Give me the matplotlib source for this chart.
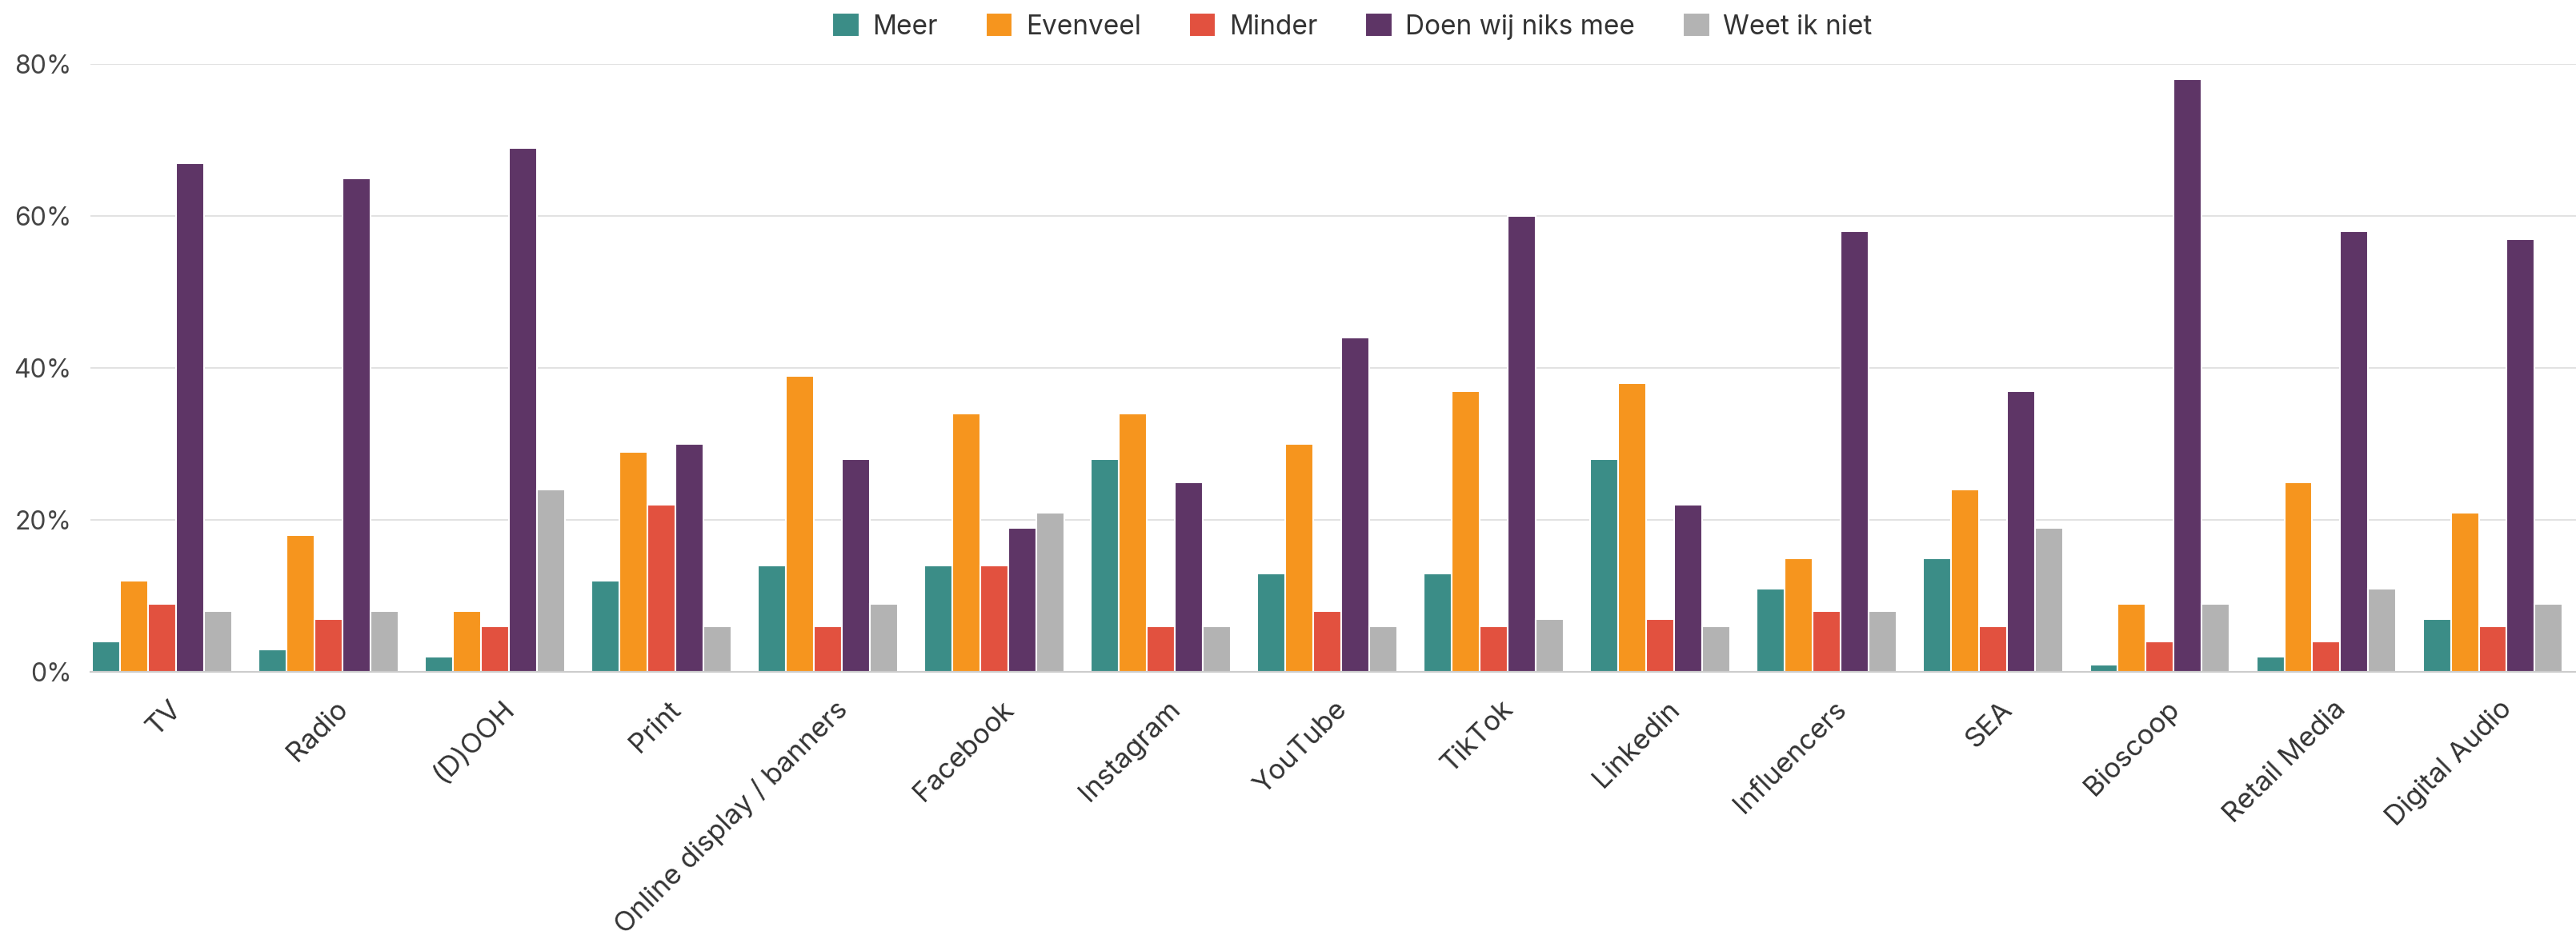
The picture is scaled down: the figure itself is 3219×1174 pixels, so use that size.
import numpy as np
import matplotlib
matplotlib.use("Agg")
import matplotlib.pyplot as plt
import matplotlib.transforms as mtransforms
from matplotlib.ticker import PercentFormatter

plt.rcParams['font.family'] = ['Inter', 'DejaVu Sans']

categories = ['TV', 'Radio', '(D)OOH', 'Print', 'Online display / banners', 'Facebook',
              'Instagram', 'YouTube', 'TikTok', 'Linkedin', 'Influencers', 'SEA',
              'Bioscoop', 'Retail Media', 'Digital Audio']

meer = [4, 3, 2, 12, 14, 14, 28, 13, 13, 28, 11, 15, 1, 2, 7]
evenveel = [12, 18, 8, 29, 39, 34, 34, 30, 37, 38, 15, 24, 9, 25, 21]
minder = [9, 7, 6, 22, 6, 14, 6, 8, 6, 7, 8, 6, 4, 4, 6]
doen_niks = [67, 65, 69, 30, 28, 19, 25, 44, 60, 22, 58, 37, 78, 58, 57]
weet_niet = [8, 8, 24, 6, 9, 21, 6, 6, 7, 6, 8, 19, 9, 11, 9]

series = [meer, evenveel, minder, doen_niks, weet_niet]
labels = ['Meer', 'Evenveel', 'Minder', 'Doen wij niks mee', 'Weet ik niet']
colors = ['#3b8d87', '#f6951e', '#e2513f', '#5e3566', '#b3b3b3']

fig = plt.figure(figsize=(32.19, 11.74), dpi=100)
ax = fig.add_axes([113 / 3219, 1 - 840 / 1174, 1 - 113 / 3219, 760 / 1174])

x = np.arange(len(categories))
width = 0.168
for i, (vals, lab, col) in enumerate(zip(series, labels, colors)):
    ax.bar(x + (i - 2) * width, vals, width, color=col, label=lab,
           edgecolor='white', linewidth=1.5, zorder=3)

ax.set_xlim(-0.43, len(categories) - 0.5)
ax.set_ylim(0, 80)
ax.set_yticks([0, 20, 40, 60, 80])
ax.yaxis.set_major_formatter(PercentFormatter(decimals=0))
ax.grid(axis='y', color='#e2e2e2', linewidth=1.5, zorder=0)
ax.set_axisbelow(True)

for side in ['top', 'right', 'left']:
    ax.spines[side].set_visible(False)
ax.spines['bottom'].set_color('#cccccc')
ax.spines['bottom'].set_linewidth(1.5)
ax.spines['bottom'].set_zorder(4)

ax.set_xticks(x)
ax.set_xticklabels(categories, rotation=45, ha='right', rotation_mode='anchor')
ax.tick_params(axis='x', length=0, pad=22, labelsize=25, labelcolor='#333333')
ax.tick_params(axis='y', length=0, pad=17, labelsize=23, labelcolor='#444444')

# nudge the rotated labels to the right, like the original
shift = mtransforms.ScaledTranslation(0.08, 0, fig.dpi_scale_trans)
for t in ax.get_xticklabels():
    t.set_transform(t.get_transform() + shift)

fig.legend(loc='center', bbox_to_anchor=(1690 / 3219, 1 - 33 / 1174), ncol=5,
           frameon=False, fontsize=24, handlelength=1.0, handleheight=1.0,
           columnspacing=1.8, handletextpad=0.5, labelcolor='#333333')

fig.savefig('out.png', dpi=100, facecolor='white')
